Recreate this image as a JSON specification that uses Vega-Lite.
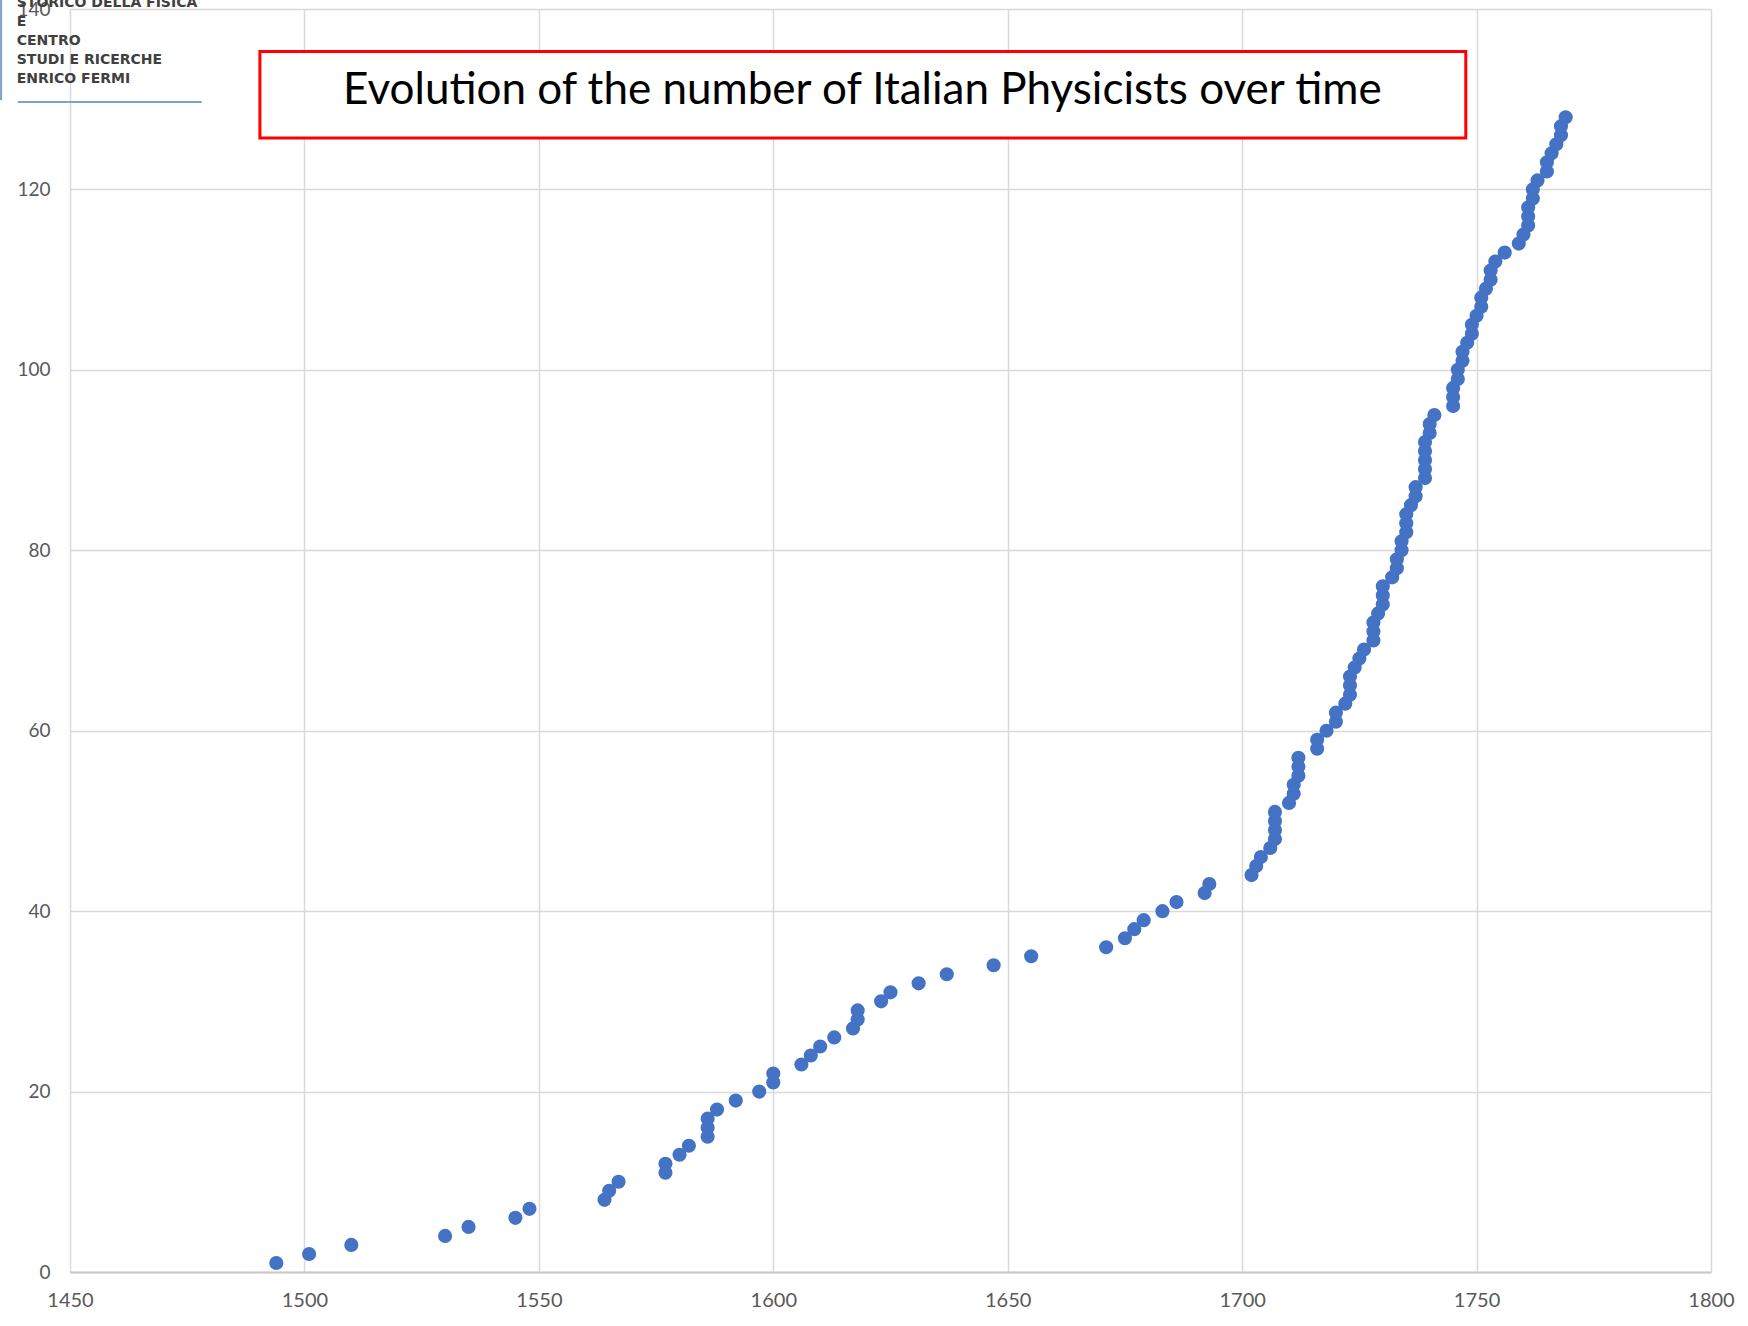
{
  "$schema": "https://vega.github.io/schema/vega-lite/v6.json",
  "autosize": "none",
  "width": 1641,
  "height": 1263,
  "padding": {"left": 70, "top": 9, "right": 37, "bottom": 54},
  "background": "white",
  "config": {"view": {"stroke": null}},
  "layer": [
    {
      "data": {"values": [
        {"year":1494,"n":1},{"year":1501,"n":2},{"year":1510,"n":3},{"year":1530,"n":4},{"year":1535,"n":5},
        {"year":1545,"n":6},{"year":1548,"n":7},{"year":1564,"n":8},{"year":1565,"n":9},{"year":1567,"n":10},
        {"year":1577,"n":11},{"year":1577,"n":12},{"year":1580,"n":13},{"year":1582,"n":14},{"year":1586,"n":15},
        {"year":1586,"n":16},{"year":1586,"n":17},{"year":1588,"n":18},{"year":1592,"n":19},{"year":1597,"n":20},
        {"year":1600,"n":21},{"year":1600,"n":22},{"year":1606,"n":23},{"year":1608,"n":24},{"year":1610,"n":25},
        {"year":1613,"n":26},{"year":1617,"n":27},{"year":1618,"n":28},{"year":1618,"n":29},{"year":1623,"n":30},
        {"year":1625,"n":31},{"year":1631,"n":32},{"year":1637,"n":33},{"year":1647,"n":34},{"year":1655,"n":35},
        {"year":1671,"n":36},{"year":1675,"n":37},{"year":1677,"n":38},{"year":1679,"n":39},{"year":1683,"n":40},
        {"year":1686,"n":41},{"year":1692,"n":42},{"year":1693,"n":43},{"year":1702,"n":44},{"year":1703,"n":45},
        {"year":1704,"n":46},{"year":1706,"n":47},{"year":1707,"n":48},{"year":1707,"n":49},{"year":1707,"n":50},
        {"year":1707,"n":51},{"year":1710,"n":52},{"year":1711,"n":53},{"year":1711,"n":54},{"year":1712,"n":55},
        {"year":1712,"n":56},{"year":1712,"n":57},{"year":1716,"n":58},{"year":1716,"n":59},{"year":1718,"n":60},
        {"year":1720,"n":61},{"year":1720,"n":62},{"year":1722,"n":63},{"year":1723,"n":64},{"year":1723,"n":65},
        {"year":1723,"n":66},{"year":1724,"n":67},{"year":1725,"n":68},{"year":1726,"n":69},{"year":1728,"n":70},
        {"year":1728,"n":71},{"year":1728,"n":72},{"year":1729,"n":73},{"year":1730,"n":74},{"year":1730,"n":75},
        {"year":1730,"n":76},{"year":1732,"n":77},{"year":1733,"n":78},{"year":1733,"n":79},{"year":1734,"n":80},
        {"year":1734,"n":81},{"year":1735,"n":82},{"year":1735,"n":83},{"year":1735,"n":84},{"year":1736,"n":85},
        {"year":1737,"n":86},{"year":1737,"n":87},{"year":1739,"n":88},{"year":1739,"n":89},{"year":1739,"n":90},
        {"year":1739,"n":91},{"year":1739,"n":92},{"year":1740,"n":93},{"year":1740,"n":94},{"year":1741,"n":95},
        {"year":1745,"n":96},{"year":1745,"n":97},{"year":1745,"n":98},{"year":1746,"n":99},{"year":1746,"n":100},
        {"year":1747,"n":101},{"year":1747,"n":102},{"year":1748,"n":103},{"year":1749,"n":104},{"year":1749,"n":105},
        {"year":1750,"n":106},{"year":1751,"n":107},{"year":1751,"n":108},{"year":1752,"n":109},{"year":1753,"n":110},
        {"year":1753,"n":111},{"year":1754,"n":112},{"year":1756,"n":113},{"year":1759,"n":114},{"year":1760,"n":115},
        {"year":1761,"n":116},{"year":1761,"n":117},{"year":1761,"n":118},{"year":1762,"n":119},{"year":1762,"n":120},
        {"year":1763,"n":121},{"year":1765,"n":122},{"year":1765,"n":123},{"year":1766,"n":124},{"year":1767,"n":125},
        {"year":1768,"n":126},{"year":1768,"n":127},{"year":1769,"n":128}
      ]},
      "mark": {"type": "point", "filled": true, "shape": "circle", "size": 200, "color": "#4472C4", "opacity": 1},
      "encoding": {
        "x": {"field": "year", "type": "quantitative",
          "scale": {"domain": [1450, 1800], "nice": false, "zero": false},
          "axis": {"title": null, "values": [1450,1500,1550,1600,1650,1700,1750,1800], "format": "d", "ticks": false,
            "labelPadding": 18, "labelFont": "Lato", "labelFontSize": 20, "labelColor": "#595959",
            "grid": true, "gridColor": "#d9d9d9", "gridWidth": 1.5,
            "domain": true, "domainColor": "#c8c8c8", "domainWidth": 2, "labelFlush": false}},
        "y": {"field": "n", "type": "quantitative",
          "scale": {"domain": [0, 140], "nice": false},
          "axis": {"title": null, "values": [0,20,40,60,80,100,120,140], "format": "d", "ticks": false,
            "labelPadding": 20, "labelFont": "Lato", "labelFontSize": 19, "labelColor": "#595959",
            "grid": true, "gridColor": "#d9d9d9", "gridWidth": 1.5, "domain": false, "labelFlush": false}}
      }
    },
    {
      "data": {"values": [{}]},
      "mark": {"type": "rect", "fill": "white", "stroke": "#FF0000", "strokeWidth": 3},
      "encoding": {
        "x": {"datum": 1490.5, "type": "quantitative"},
        "x2": {"datum": 1747.7},
        "y": {"datum": 135.3, "type": "quantitative"},
        "y2": {"datum": 125.7}
      }
    },
    {
      "data": {"values": [{}]},
      "mark": {"type": "text", "text": "Evolution of the number of Italian Physicists over time",
        "font": "Lato", "fontSize": 44, "fontWeight": "normal", "color": "black", "align": "center", "baseline": "middle"},
      "encoding": {
        "x": {"datum": 1619, "type": "quantitative"},
        "y": {"datum": 130.9, "type": "quantitative"}
      }
    },
    {
      "data": {"values": [{}]},
      "mark": {"type": "text", "text": ["STORICO DELLA FISICA", "E", "CENTRO", "STUDI E RICERCHE", "ENRICO FERMI"],
        "font": "DejaVu Sans", "fontSize": 14, "fontWeight": "bold", "color": "#404040",
        "align": "left", "baseline": "middle", "lineHeight": 19},
      "encoding": {
        "x": {"datum": 1438.65, "type": "quantitative"},
        "y": {"datum": 140.7, "type": "quantitative"}
      }
    },
    {
      "data": {"values": [{}]},
      "mark": {"type": "rule", "color": "#7f9fcf", "strokeWidth": 2},
      "encoding": {
        "x": {"datum": 1438.87, "type": "quantitative"},
        "x2": {"datum": 1478.1},
        "y": {"datum": 129.7, "type": "quantitative"}
      }
    },
    {
      "data": {"values": [{}]},
      "mark": {"type": "rule", "color": "#7f9fcf", "strokeWidth": 2},
      "encoding": {
        "x": {"datum": 1435.3, "type": "quantitative"},
        "y": {"datum": 141, "type": "quantitative"},
        "y2": {"datum": 129.9}
      }
    }
  ]
}
